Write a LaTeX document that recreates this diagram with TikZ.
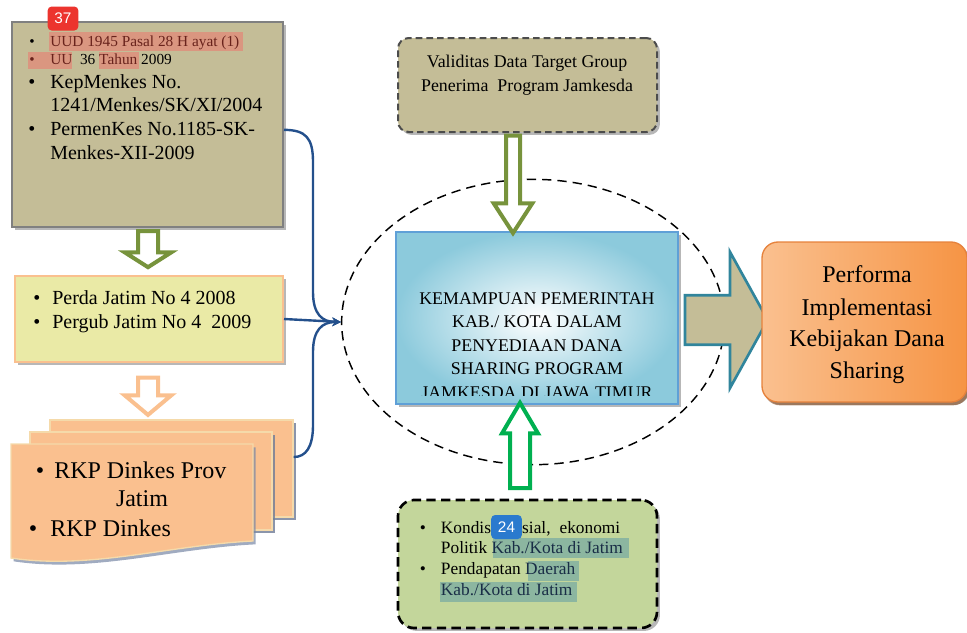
\documentclass[tikz,border=0pt]{standalone}
\usepackage{fontspec}
\setmainfont{Liberation Serif}
\newfontfamily\badgefont{Liberation Sans}
\usetikzlibrary{shapes.geometric,shapes.arrows,shadows}

\definecolor{tanbox}{RGB}{196,189,151}
\definecolor{olivearr}{RGB}{119,147,60}
\definecolor{peach}{RGB}{250,192,143}
\definecolor{docedge}{RGB}{245,218,170}
\definecolor{docshade}{RGB}{120,135,165}
\definecolor{perdafill}{RGB}{234,234,166}
\definecolor{linkblue}{RGB}{36,80,140}
\definecolor{coreblue}{RGB}{140,202,220}
\definecolor{coreedge}{RGB}{95,160,215}
\definecolor{tealedge}{RGB}{49,133,156}
\definecolor{perfdark}{RGB}{246,148,68}
\definecolor{perfedge}{RGB}{230,130,60}
\definecolor{condfill}{RGB}{195,214,155}
\definecolor{greenarr}{RGB}{0,176,80}
\definecolor{hlsalmon}{RGB}{218,150,128}
\definecolor{hlteal}{RGB}{140,182,160}
\definecolor{maroon}{RGB}{105,35,28}
\definecolor{navytxt}{RGB}{25,45,70}
\definecolor{badgered}{RGB}{236,52,46}
\definecolor{badgeblue}{RGB}{42,122,206}

\newcommand{\lawsmall}{\fontsize{11.5}{13}\selectfont}
\newcommand{\lawbig}{\fontsize{15}{17}\selectfont}

\begin{document}
\begin{tikzpicture}[x=0.75pt,y=-0.75pt,>=stealth,
    shadowed/.style={drop shadow={shadow xshift=2.2pt,shadow yshift=-2.2pt,opacity=.4,fill=black!70}},
    box/.style={draw,inner sep=0pt,shadowed},
    fatarrow/.style={single arrow,draw=#1,fill=white,line width=3pt},
    link/.style={draw=linkblue,line width=1.8pt},
    txt/.style={inner sep=0pt,anchor=base west},
    mid/.style={inner sep=0pt,anchor=base},
    badge/.style={fill=#1,rounded corners=3pt,text=white,inner sep=0pt,
        minimum width=23pt,minimum height=18pt,font=\badgefont\fontsize{11.5}{12}\selectfont},
]
\useasboundingbox (0,0) rectangle (967,632);

% left column: legal basis
\node[box,fill=tanbox,draw=black!50,line width=1.5pt,minimum width=203.25pt,minimum height=153.75pt] (lawbox) at (147.5,124.5) {};
\fill[hlsalmon] (49,32) rectangle (243,51);
\fill[hlsalmon] (28,52) rectangle (72,69);
\fill[hlsalmon] (99,52) rectangle (139,69);
\node[mid,font=\lawsmall] (lawdot1) at (32,46.7) {\textbullet};
\node[txt,font=\lawsmall,text=maroon] (law1) at (50,46.7) {UUD 1945 Pasal 28 H ayat (1)};
\node[mid,font=\lawsmall,text=maroon] (lawdot2) at (32,64) {\textbullet};
\node[txt,font=\lawsmall] (law2) at (50,64) {\textcolor{maroon}{UU}\ \ 36 \textcolor{maroon}{Tahun} 2009};
\node[mid,font=\lawbig] (lawdot3) at (32,88.3) {\textbullet};
\node[txt,font=\lawbig] (law3) at (50,88.3) {KepMenkes No.};
\node[txt,font=\lawbig] (law4) at (50,111) {1241/Menkes/SK/XI/2004};
\node[mid,font=\lawbig] (lawdot5) at (32,135) {\textbullet};
\node[txt,font=\lawbig] (law5) at (50,135) {PermenKes No.1185-SK-};
\node[txt,font=\lawbig] (law6) at (50,159) {Menkes-XII-2009};

\node[fatarrow=olivearr,inner sep=6pt,single arrow head extend=10pt,single arrow tip angle=115,
    minimum height=27pt,shape border rotate=270] (lawarrow) at (148,246) {};

% perda box
\node[box,fill=perdafill,draw=peach,line width=1.5pt,minimum width=201pt,minimum height=64.5pt] (perdabox) at (149,319) {};
\node[mid,font=\fontsize{15}{17}\selectfont] (perdadot1) at (37,304) {\textbullet};
\node[txt,font=\fontsize{15}{17}\selectfont] (perda1) at (52,304) {Perda Jatim No 4 2008};
\node[mid,font=\fontsize{15}{17}\selectfont] (perdadot2) at (37,328.3) {\textbullet};
\node[txt,font=\fontsize{15}{17}\selectfont] (perda2) at (52,328.3) {Pergub Jatim No 4\ \ 2009};

\node[fatarrow=peach,inner sep=6pt,single arrow head extend=10pt,single arrow tip angle=100,
    minimum height=28pt,shape border rotate=270] (perdaarrow) at (148,392) {};

% stacked rkp papers
\node[box,fill=peach,draw=docedge,line width=1pt,minimum width=182.25pt,minimum height=72.75pt,
    drop shadow={shadow xshift=2pt,shadow yshift=-2.5pt,opacity=.7,fill=docshade}] (rkpback) at (171.5,468.5) {};
\node[box,fill=peach,draw=docedge,line width=1pt,minimum width=181.5pt,minimum height=73.5pt,
    drop shadow={shadow xshift=2pt,shadow yshift=-2.5pt,opacity=.7,fill=docshade}] (rkpmid) at (151,481) {};
\draw[fill=peach,draw=docedge,line width=1pt,
    drop shadow={shadow xshift=2pt,shadow yshift=-2.5pt,opacity=.7,fill=docshade}]
    (11,444) -- (253,444) -- (253,541) .. controls (170,545) and (90,570) .. (11,558) -- cycle;
\node[mid,font=\fontsize{18}{20}\selectfont] (rkpdot1) at (40,478) {\textbullet};
\node[txt,font=\fontsize{18}{20}\selectfont] (rkp1) at (54,478) {RKP Dinkes Prov};
\node[mid,font=\fontsize{18}{20}\selectfont] (rkp2) at (142,506.7) {Jatim};
\node[mid,font=\fontsize{18}{20}\selectfont] (rkpdot3) at (33,536.7) {\textbullet};
\node[txt,font=\fontsize{18}{20}\selectfont] (rkp3) at (50,536.7) {RKP Dinkes};

% middle: the core and its ring
\node[draw,dashed,dash pattern=on 7pt off 4.5pt,line width=1.1pt,ellipse,
    minimum width=287pt,minimum height=214pt] (ring) at (533,322) {};

\draw[link,->] ([yshift=-4pt]lawbox.east) .. controls (306,130) and (313,138) .. (313,162)
    -- (313,292) .. controls (313,314) and (322,322) .. (ring.west);
\draw[link,->] (perdabox.east) -- (ring.west);
\draw[link,->] ([yshift=8.6pt]rkpback.east) .. controls (306,457) and (313,447) .. (313,425)
    -- (313,352) .. controls (313,330) and (322,322) .. (ring.west);

\node[box,fill=tanbox,draw=black!70,dashed,dash pattern=on 5pt off 3pt,line width=1.5pt,rounded corners=8pt,
    minimum width=194.25pt,minimum height=70.5pt] (validbox) at (527.5,85) {};
\node[mid,font=\fontsize{13.4}{15}\selectfont] (valid1) at (527,67.3) {Validitas Data Target Group};
\node[mid,font=\fontsize{13.4}{15}\selectfont] (valid2) at (527,91) {Penerima\ \ Program Jamkesda};

\node[box,draw=coreedge,line width=1.5pt,inner color=white,outer color=coreblue,
    minimum width=211.5pt,minimum height=129pt] (corebox) at (537,318) {};
\begin{scope}
  \clip (396,232) rectangle (678,395);
  \node[mid,font=\fontsize{13.4}{15}\selectfont] (core1) at (537,304) {KEMAMPUAN PEMERINTAH};
  \node[mid,font=\fontsize{13.4}{15}\selectfont] (core2) at (537,327.6) {KAB./ KOTA DALAM};
  \node[mid,font=\fontsize{13.4}{15}\selectfont] (core3) at (537,351) {PENYEDIAAN DANA};
  \node[mid,font=\fontsize{13.4}{15}\selectfont] (core4) at (537,374.8) {SHARING PROGRAM};
  \node[mid,font=\fontsize{13.4}{15}\selectfont] (core5) at (537,398.4) {JAMKESDA DI JAWA TIMUR};
\end{scope}

\node[fatarrow=olivearr,line width=3pt,inner sep=3.75pt,single arrow head extend=9.25pt,single arrow tip angle=66,
    minimum height=73pt,shape border rotate=270] (validarrow) at (513,179) {};

% bottom box
\node[box,fill=condfill,draw=black,dashed,dash pattern=on 7pt off 4pt,line width=2pt,rounded corners=12pt,
    minimum width=194.25pt,minimum height=96pt] (condbox) at (527.5,564) {};
\fill[hlteal] (493,538) rectangle (629,558);
\fill[hlteal] (528,561) rectangle (579,581);
\fill[hlteal] (440,582) rectangle (577,602);
\node[mid,font=\fontsize{13}{15}\selectfont] (conddot1) at (423,533.3) {\textbullet};
\node[txt,font=\fontsize{13}{15}\selectfont] (cond1) at (440.7,533.3) {\makebox[134.5pt][s]{Kondisi Sosial, ekonomi}};
\node[txt,font=\fontsize{13}{15}\selectfont] (cond2) at (440.7,553.3) {Politik \textcolor{navytxt}{Kab./Kota di Jatim}};
\node[mid,font=\fontsize{13}{15}\selectfont] (conddot3) at (423,574) {\textbullet};
\node[txt,font=\fontsize{13}{15}\selectfont] (cond3) at (440.7,574) {Pendapatan \textcolor{navytxt}{Daerah}};
\node[txt,font=\fontsize{13}{15}\selectfont,text=navytxt] (cond4) at (440.7,595) {Kab./Kota di Jatim};

\node[fatarrow=greenarr,inner sep=6pt,single arrow head extend=6pt,single arrow tip angle=61,
    minimum height=64pt,shape border rotate=90] (condarrow) at (520,454) {};

% right: outcome
\node[single arrow,draw=tealedge,fill=tanbox,line width=2pt,inner xsep=0pt,inner ysep=17.6pt,
    single arrow head extend=32.5pt,single arrow tip angle=122,minimum height=62pt] (corearrow) at (719.5,320) {};
\node[box,draw=perfedge,line width=1pt,rounded corners=12pt,left color=peach,right color=perfdark,
    drop shadow={shadow xshift=1.5pt,shadow yshift=-2.5pt,opacity=.6,fill=perfedge!60!black},
    minimum width=153.75pt,minimum height=120pt] (perfbox) at (864.5,322) {};
\node[mid,font=\fontsize{18}{20}\selectfont] (perf1) at (867,282.7) {Performa};
\node[mid,font=\fontsize{18}{20}\selectfont] (perf2) at (867,315) {Implementasi};
\node[mid,font=\fontsize{18}{20}\selectfont] (perf3) at (867,346) {Kebijakan Dana};
\node[mid,font=\fontsize{18}{20}\selectfont] (perf4) at (867,378) {Sharing};

% comment badges
\node[badge=badgered] (badge37) at (63,18.5) {37};
\node[badge=badgeblue] (badge24) at (506.5,527) {24};
\end{tikzpicture}
\end{document}
